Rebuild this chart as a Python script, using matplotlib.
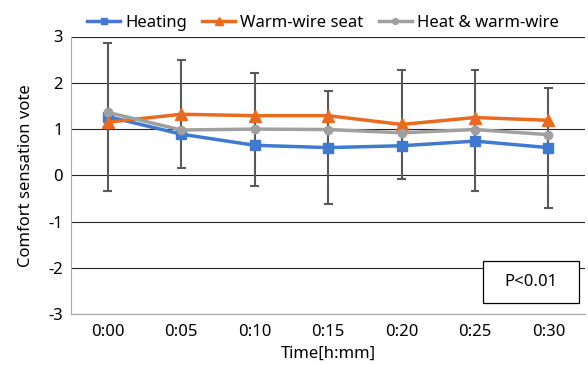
import matplotlib.pyplot as plt
from matplotlib.patches import Rectangle

plt.rcParams['font.family'] = ['Noto Sans', 'DejaVu Sans']
plt.rcParams['axes.unicode_minus'] = False

times = ["0:00", "0:05", "0:10", "0:15", "0:20", "0:25", "0:30"]
heating = [1.27, 0.89, 0.65, 0.60, 0.64, 0.74, 0.60]
warm_wire = [1.15, 1.32, 1.29, 1.29, 1.10, 1.25, 1.19]
heat_warm = [1.36, 0.98, 1.00, 0.99, 0.92, 0.99, 0.88]
# error bar ends
err_low = [-0.34, 0.16, -0.24, -0.61, -0.07, -0.34, -0.70]
err_high = [2.85, 2.49, 2.22, 1.82, 2.28, 2.28, 1.88]

x = list(range(len(times)))

fig = plt.figure(figsize=(5.88, 3.65), dpi=100)
ax = fig.add_axes([0.121, 0.139, 0.874, 0.761])

ax.set_ylim(-3, 3)
ax.set_xlim(-0.5, len(times) - 0.5)
ax.set_yticks(range(-3, 4))
ax.yaxis.grid(True, color='#262626', linewidth=0.8)
ax.set_axisbelow(True)

ax.vlines(x, err_low, err_high, color='#595959', linewidth=1.5, zorder=2)
ax.hlines(err_low, [i - 0.06 for i in x], [i + 0.06 for i in x], color='#595959', linewidth=1.5, zorder=2)
ax.hlines(err_high, [i - 0.06 for i in x], [i + 0.06 for i in x], color='#595959', linewidth=1.5, zorder=2)

ax.plot(x, heating, color='#3F7AD0', marker='s', markersize=6.5, linewidth=2.5, label='Heating', zorder=3)
ax.plot(x, warm_wire, color='#EA6A20', marker='^', markersize=9, linewidth=2.5, label='Warm-wire seat', zorder=3)
ax.plot(x, heat_warm, color='#A0A0A0', marker='o', markersize=6, linewidth=2.5, label='Heat & warm-wire', zorder=3)

ax.set_xticks(x)
ax.set_xticklabels(times)
ax.tick_params(axis='both', length=0, labelsize=12, colors='black', pad=7)
ax.tick_params(axis='y', pad=6)

for s in ['top', 'right']:
    ax.spines[s].set_visible(False)
ax.spines['left'].set_color('#A6A6A6')
ax.spines['bottom'].set_color('#A6A6A6')

ax.set_xlabel('Time[h:mm]', fontsize=12, labelpad=4)
ax.set_ylabel('Comfort sensation vote', fontsize=12, labelpad=10)

ax.legend(loc='lower center', bbox_to_anchor=(0.49, 0.99), ncol=3, frameon=False,
          fontsize=12, handlelength=2.0, columnspacing=0.9, handletextpad=0.3,
          borderaxespad=0.1, markerscale=0.7)

ax.add_patch(Rectangle((0.801, 0.041), 0.187, 0.151, transform=ax.transAxes,
                       facecolor='white', edgecolor='black', linewidth=0.9, zorder=4))
ax.text(0.8945, 0.1165, 'P<0.01', transform=ax.transAxes, ha='center', va='center',
        fontsize=12, zorder=5)

fig.savefig('out.png', dpi=100)
